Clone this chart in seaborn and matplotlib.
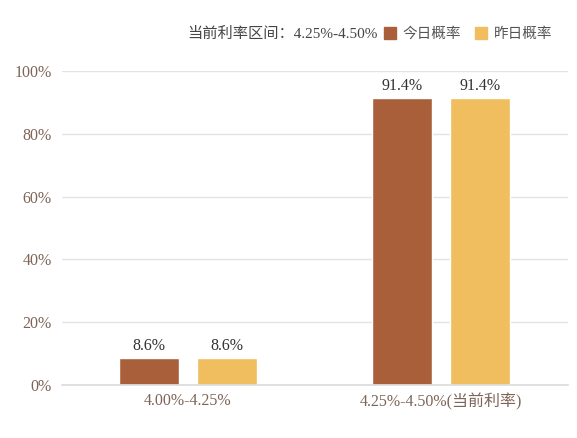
import matplotlib
matplotlib.use("Agg")
import matplotlib.pyplot as plt
import seaborn as sns
import pandas as pd
from matplotlib.lines import Line2D

categories = ["4.00%-4.25%", "4.25%-4.50%(当前利率)"]
series_names = ["今日概率", "昨日概率"]
today = [8.6, 91.4]
yesterday = [8.6, 91.4]
yticks = [0, 20, 40, 60, 80, 100]
header = "当前利率区间：4.25%-4.50%"

colors = ["#A9603A", "#F0BE5E"]
fonts = ["Liberation Serif", "Noto Sans CJK SC"]

sns.set_theme(style="white")
plt.rcParams["font.family"] = fonts

df = pd.DataFrame({
    "区间": categories * 2,
    "系列": [series_names[0]] * 2 + [series_names[1]] * 2,
    "概率": today + yesterday,
})

fig = plt.figure(figsize=(5.77, 4.38), dpi=100)
ax = fig.add_axes([0.1066, 0.121, 0.877, 0.717])

sns.barplot(data=df, x="区间", y="概率", hue="系列", palette=colors,
            width=0.617, gap=0.23, ax=ax, legend=False, saturation=1)

for cont in ax.containers:
    ax.bar_label(cont, labels=[f"{v:.1f}%" for v in cont.datavalues],
                 padding=3, fontsize=11.5, color="#333333")

ax.set_xlim(-0.5, 1.5)
ax.set_ylim(0, 100)
ax.set_yticks(yticks)
ax.set_yticklabels([f"{t}%" for t in yticks])
ax.yaxis.grid(True, color="#E3E3E3", linewidth=1)
ax.set_axisbelow(True)
for s in ["top", "right", "left"]:
    ax.spines[s].set_visible(False)
ax.spines["bottom"].set_color("#DDDDDD")
ax.tick_params(axis="both", length=0, labelsize=11.5, labelcolor="#7D6457")
ax.tick_params(axis="y", pad=7)
ax.tick_params(axis="x", pad=6)
ax.set_xlabel("")
ax.set_ylabel("")

fig.text(0.655, 0.922, header, fontsize=11, color="#444444", va="center", ha="right")
handles = [Line2D([], [], marker="s", linestyle="", markersize=9,
                  markerfacecolor=c, markeredgecolor=c) for c in colors]
fig.legend(handles, series_names, loc="center right", bbox_to_anchor=(0.98, 0.922),
           ncol=2, frameon=False, fontsize=10.5, handletextpad=0.45, handlelength=0.8,
           columnspacing=1.0, labelcolor="#555555")

fig.savefig("out.png", dpi=100)
